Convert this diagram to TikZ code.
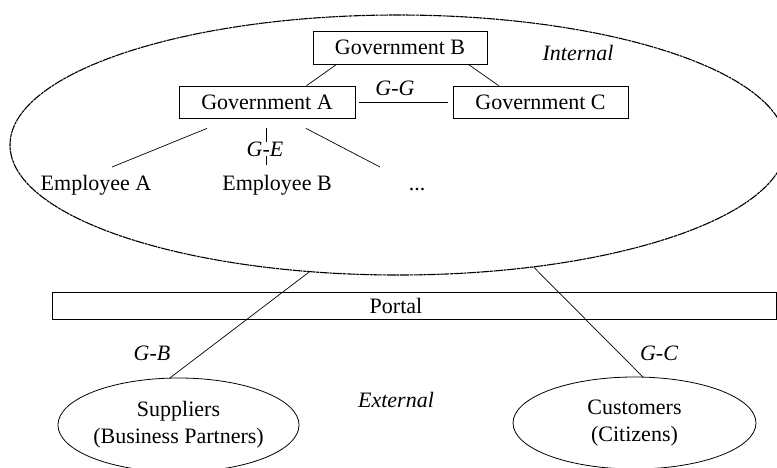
\documentclass[tikz,border=0pt]{standalone}
\usepackage{fontspec}
\setmainfont{Liberation Serif}
\usetikzlibrary{shapes.geometric,calc}
\tikzset{
  txt/.style={font=\fontsize{22}{27}\selectfont, inner sep=0pt},
  lbl/.style={font=\fontsize{22}{27}\selectfont\itshape, inner sep=0pt},
  govbox/.style={draw, line width=0.8pt, minimum width=175pt, minimum height=32pt,
                 inner sep=0pt, font=\fontsize{22}{27}\selectfont},
  party/.style={draw, ellipse, line width=0.8pt, inner sep=0pt, align=center,
                font=\fontsize{22}{27}\selectfont},
  link/.style={line width=0.7pt},
  rough/.style={line width=1.1pt, dash pattern=on 9pt off 0.7pt on 3pt off 0.7pt}
}
\begin{document}
\begin{tikzpicture}[x=1pt,y=-1pt]
  \useasboundingbox (0,0) rectangle (777,467);
  \fill[white] (0,0) rectangle (777,467);
  \clip (0,0) rectangle (777,467);

  % internal domain
  \node[draw, rough, ellipse, minimum width=776pt, minimum height=260pt, inner sep=0pt] (int) at (398,145) {};
  \node[lbl] at (578,53) {Internal};

  % governments
  \node[govbox, minimum width=174pt, minimum height=33pt] (gB) at (400,47.5) {Government B};
  \node[govbox, minimum width=176pt] (gA) at (267,102) {Government A};
  \node[govbox] (gC) at (540.5,102) {Government C};

  \draw[link] ($(gB.south west)+(24,0)$) -- ($(gA.north west)+(128,0)$);
  \draw[link] ($(gB.south east)+(-19,0)$) -- ($(gC.north west)+(46,0)$);
  \draw[link, shorten <=4pt, shorten >=5pt] (gA.east) -- (gC.west);
  \node[lbl] at (395,88) {G-G};

  % employees
  \node[txt, anchor=base] (eA) at (96,190) {Employee A};
  \node[txt, anchor=base] (eB) at (277,190) {Employee B};
  \node[txt, anchor=base] (eC) at (417,190) {...};

  \coordinate (a1) at ($(gA.south)+(-60,10)$);
  \coordinate (a2) at ($(gA.south)+(-1,10)$);
  \coordinate (a3) at ($(gA.south)+(39,10)$);
  \coordinate (e1) at ($(eA.base)+(16,-23)$);
  \coordinate (e2) at ($(eB.base)+(-11,-25)$);
  \coordinate (e3) at ($(eC.base)+(-37,-23)$);
  \draw[link] (a1) -- (e1);
  \draw[link] (a2) -- (e2);
  \draw[link] (a3) -- (e3);
  \node[lbl, fill=white, text height=14pt, text depth=0pt] at (265,149) {G-E};

  % portal
  \node[draw, line width=0.8pt, minimum width=724pt, minimum height=27pt, inner sep=0pt] (portal) at (414,305.5) {};
  \node[txt] at (396,305.5) {Portal};

  % external parties
  \node[party, minimum width=241pt, minimum height=94pt] (sup) at (178.5,425) {Suppliers\\(Business Partners)};
  \node[party, minimum width=243pt, minimum height=92pt] (cus) at (634.5,423) {Customers\\(Citizens)};
  \node[lbl] at (396,400) {External};

  \draw[link] (int.235) -- (sup.100);
  \node[lbl] at (152,353) {G-B};
  \draw[link] (int.318) -- (cus.80);
  \node[lbl] at (659,353) {G-C};
\end{tikzpicture}
\end{document}
